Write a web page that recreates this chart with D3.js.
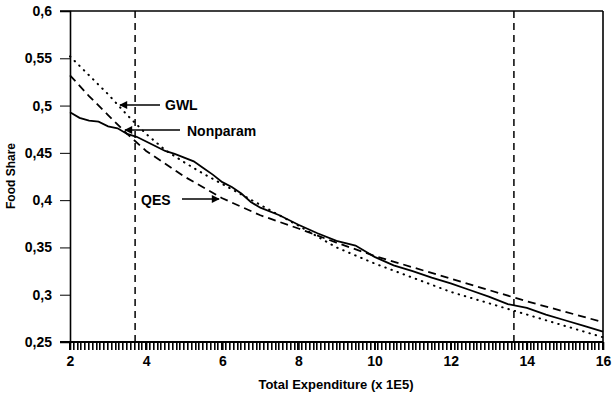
<!DOCTYPE html>
<html>
<head>
<meta charset="utf-8">
<script src="https://cdn.jsdelivr.net/npm/d3@7"></script>
<style>
  body { margin: 0; background: #fff; }
  svg { display: block; }
  svg text { font-family: "Liberation Sans", Arial, sans-serif; fill: #000; }
</style>
</head>
<body>
<svg id="chart" width="612" height="398"></svg>
<script>
const svg = d3.select("#chart");

// food share curves
const npX = [2, 2.25, 2.5, 2.75, 3, 3.25, 3.5, 3.75, 4, 4.25, 4.5, 4.75, 5, 5.25, 5.5, 5.75, 6, 6.25, 6.5, 6.75, 7, 7.5, 8, 8.5, 9, 9.5, 10, 10.5, 11, 11.5, 12, 12.5, 13, 13.5, 14, 14.5, 15, 15.5, 16];
const npY = [0.493, 0.487, 0.484, 0.483, 0.478, 0.476, 0.470, 0.467, 0.462, 0.457, 0.452, 0.449, 0.445, 0.441, 0.434, 0.427, 0.419, 0.414, 0.407, 0.398, 0.392, 0.384, 0.374, 0.365, 0.357, 0.352, 0.340, 0.331, 0.325, 0.318, 0.312, 0.305, 0.298, 0.290, 0.286, 0.279, 0.273, 0.267, 0.261];

const qesX = [2, 2.5, 3, 3.5, 4, 5, 6, 7, 8, 9, 10, 11, 12, 13, 14, 15, 16];
const qesY = [0.532, 0.510, 0.490, 0.470, 0.452, 0.425, 0.402, 0.384, 0.370, 0.355, 0.341, 0.329, 0.317, 0.305, 0.293, 0.282, 0.271];

const gwlX = [2, 2.5, 3, 3.5, 4, 4.5, 5, 5.5, 6, 7, 8, 9, 10, 11, 12, 13, 14, 15, 16];
const gwlY = [0.552, 0.532, 0.512, 0.490, 0.470, 0.453, 0.440, 0.428, 0.417, 0.395, 0.373, 0.350, 0.333, 0.318, 0.303, 0.291, 0.279, 0.267, 0.255];

const xTicks = [2, 4, 6, 8, 10, 12, 14, 16];
const yTicks = [0.25, 0.3, 0.35, 0.4, 0.45, 0.5, 0.55, 0.6];
const vLines = [3.71, 13.66];

const x = d3.scaleLinear().domain([2, 16]).range([70, 603]);
const y = d3.scaleLinear().domain([0.25, 0.6]).range([342, 11]);

const fmt = d => String(+d.toFixed(2)).replace(".", ",");

// frame
svg.append("line").attr("x1", 60).attr("x2", 603).attr("y1", y(0.6)).attr("y2", y(0.6))
  .attr("stroke", "#000").attr("stroke-width", 1.6);
svg.append("line").attr("x1", 603).attr("x2", 603).attr("y1", y(0.6)).attr("y2", y(0.25))
  .attr("stroke", "#000").attr("stroke-width", 1.6);

// y axis
const yAxis = svg.append("g").attr("transform", "translate(70,0)")
  .call(d3.axisLeft(y).tickValues(yTicks).tickSize(10).tickPadding(8).tickFormat(fmt));
yAxis.select(".domain").attr("stroke-width", 1.6);
yAxis.selectAll("line").attr("stroke-width", 1);
yAxis.selectAll("text").style("font-size", "14px").style("font-weight", "bold");

// x axis: minor ticks every 0.1
const minor = d3.range(20, 161).map(d => d / 10);
svg.append("g")
  .selectAll("rect").data(minor).join("rect")
  .attr("x", d => Math.round(x(d)) - 1).attr("y", 342)
  .attr("width", 1.6).attr("height", 8)
  .attr("fill", "#000");

const xAxis = svg.append("g").attr("transform", "translate(0,342)")
  .call(d3.axisBottom(x).tickValues(xTicks).tickSize(8).tickPadding(6).tickFormat(d3.format("d")));
xAxis.select(".domain").attr("stroke-width", 2).attr("d", "M60,0H603");
xAxis.selectAll("line").attr("stroke-width", 1.6);
xAxis.selectAll("text").style("font-size", "14px").style("font-weight", "bold");

// axis titles
svg.append("text").attr("x", 336).attr("y", 389).attr("text-anchor", "middle")
  .style("font-size", "13px").style("font-weight", "bold").text("Total Expenditure (x 1E5)");
svg.append("text").attr("transform", "translate(15,176) rotate(-90)").attr("text-anchor", "middle")
  .style("font-size", "12px").style("font-weight", "bold").text("Food Share");

// vertical reference lines
svg.selectAll(".vline").data(vLines).join("line")
  .attr("class", "vline")
  .attr("x1", d => x(d)).attr("x2", d => x(d))
  .attr("y1", y(0.6)).attr("y2", y(0.25))
  .attr("stroke", "#000").attr("stroke-width", 1.5).attr("stroke-dasharray", "7,5");

const line = d3.line().x(d => x(d[0])).y(d => y(d[1]));

svg.append("path").datum(d3.zip(gwlX, gwlY)).attr("d", line)
  .attr("fill", "none").attr("stroke", "#000").attr("stroke-width", 2)
  .attr("stroke-linecap", "round").attr("stroke-dasharray", "0.5,6");

svg.append("path").datum(d3.zip(qesX, qesY)).attr("d", line)
  .attr("fill", "none").attr("stroke", "#000").attr("stroke-width", 1.8)
  .attr("stroke-dasharray", "8,5");

svg.append("path").datum(d3.zip(npX, npY)).attr("d", line)
  .attr("fill", "none").attr("stroke", "#000").attr("stroke-width", 1.8);

// annotations
svg.append("defs").append("marker")
  .attr("id", "head").attr("viewBox", "0 0 10 10").attr("refX", 9).attr("refY", 5)
  .attr("markerWidth", 10).attr("markerHeight", 8).attr("markerUnits", "userSpaceOnUse")
  .attr("orient", "auto")
  .append("path").attr("d", "M0,0L10,5L0,10Z").attr("fill", "#000");

const notes = [
  { label: "GWL", tx: 165, ty: 110, x1: 160, x2: 120, ay: 105 },
  { label: "Nonparam", tx: 187, ty: 136, x1: 180, x2: 125, ay: 130 },
  { label: "QES", tx: 141, ty: 205, x1: 182, x2: 219, ay: 199 }
];
notes.forEach(n => {
  svg.append("line").attr("x1", n.x1).attr("x2", n.x2).attr("y1", n.ay).attr("y2", n.ay)
    .attr("stroke", "#000").attr("stroke-width", 1.6).attr("marker-end", "url(#head)");
  svg.append("text").attr("x", n.tx).attr("y", n.ty)
    .style("font-size", "14px").style("font-weight", "bold").text(n.label);
});
</script>
</body>
</html>
